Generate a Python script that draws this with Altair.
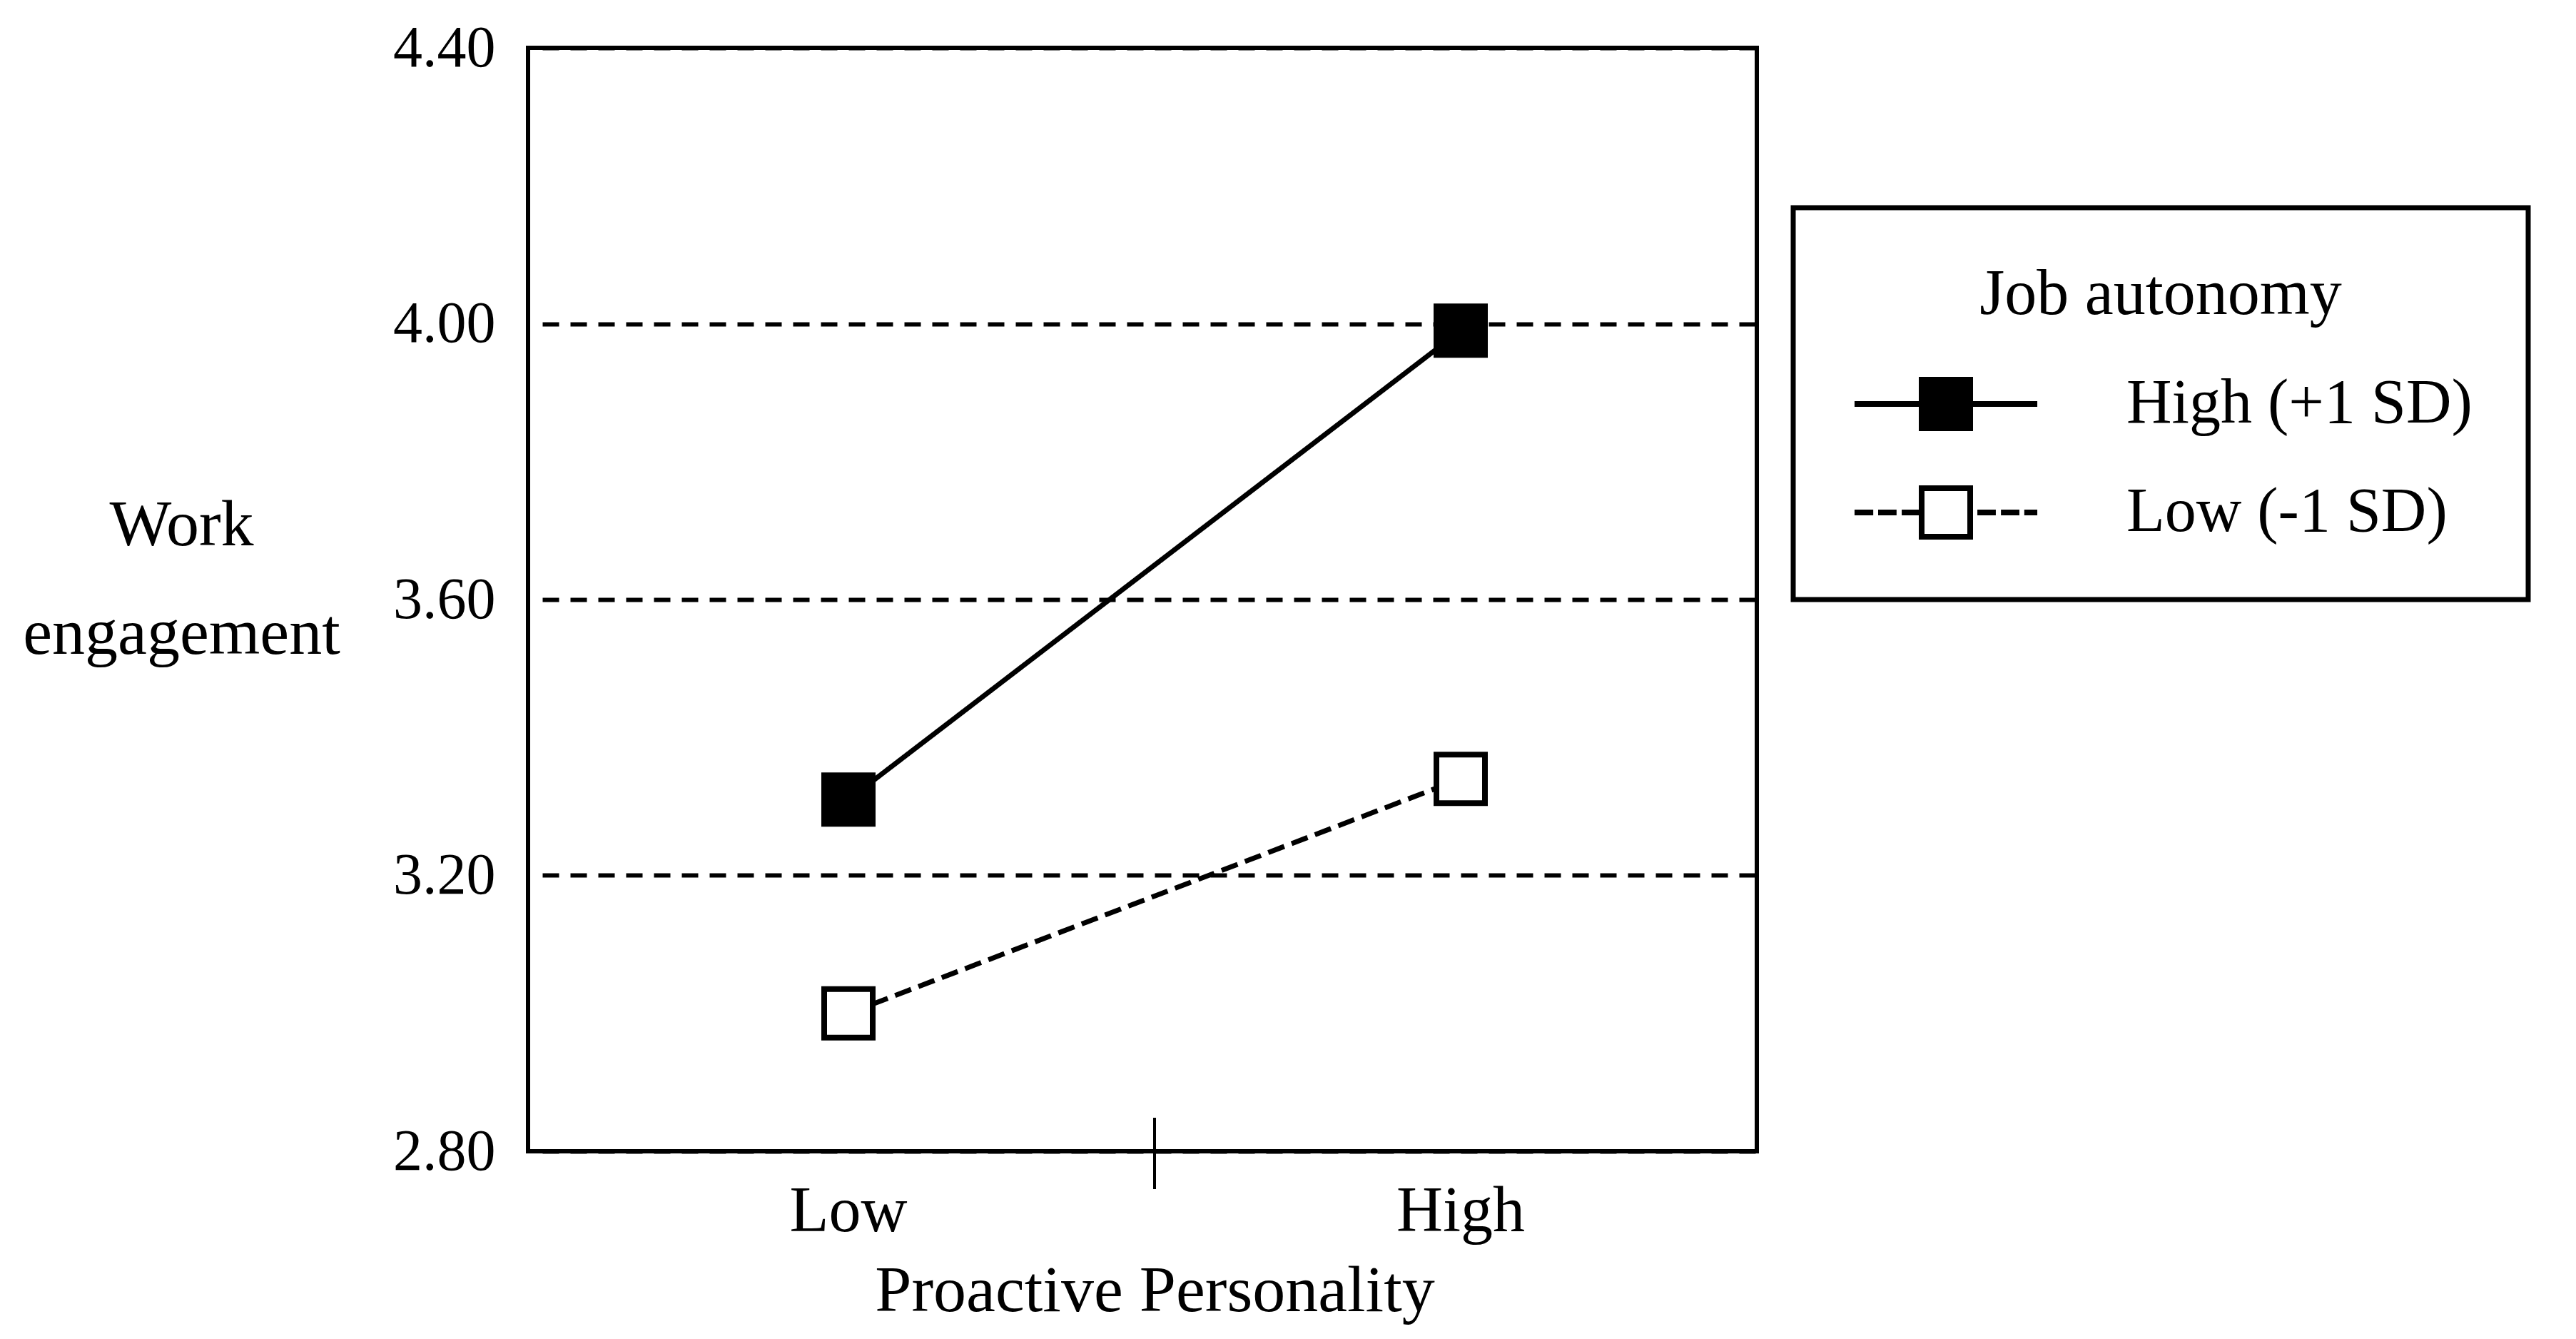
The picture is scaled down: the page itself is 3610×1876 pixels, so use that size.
import altair as alt
import pandas as pd

# ---- data ----
pp_levels = ["Low", "High"]                    # Proactive Personality
ja_levels = ["High (+1 SD)", "Low (-1 SD)"]    # Job autonomy
high_ja = [3.31, 3.99]
low_ja = [3.00, 3.34]
y_ticks = [2.80, 3.20, 3.60, 4.00, 4.40]

rows = []
for ja, vals in zip(ja_levels, [high_ja, low_ja]):
    for pp, v in zip(pp_levels, vals):
        rows.append({"pp": pp, "ja": ja, "we": v})
df = pd.DataFrame(rows)
divider = pd.DataFrame({"pp": [pp_levels[1]]})

FONT = "Liberation Serif"
W, H = 1722, 1546

# legend symbols: line + square (units of half the square side)
def rect(x1, x2, y1, y2):
    return f"M{x1},{y1}H{x2}V{y2}H{x1}Z"

T = 0.105   # half thickness of legend line
PATH_HIGH = rect(-3.37, 3.37, -T, T) + rect(-1, 1, -1, 1)
PATH_LOW = (rect(-1, 1, -1, -0.79) + rect(-1, 1, 0.79, 1)
            + rect(-1, -0.79, -1, 1) + rect(0.79, 1, -1, 1)
            + "".join(rect(a, b, -T, T) for a, b in [(-3.37, -2.68), (-2.50, -1.82), (-1.63, -1.0),
                                                      (1.16, 1.84), (2.03, 2.71), (2.89, 3.37)]))

xscale = alt.Scale(domain=pp_levels, type="band", paddingInner=0, paddingOuter=0, range=[20, 1736])
xaxis = alt.Axis(title="Proactive Personality", labelAngle=0, domain=False, ticks=False,
                 labelPadding=40, labelFontSize=90, titleFontSize=92, titleY=223,
                 titleBaseline="alphabetic", grid=False, labelLimit=1000)
yscale = alt.Scale(domain=[2.8, 4.4], nice=False, zero=False)
yaxis = alt.Axis(title=["Work", "engagement"], values=y_ticks, format=".2f", domain=False,
                 ticks=False, labelPadding=46, labelFontSize=82, grid=True, gridDash=[23, 16],
                 gridWidth=6, gridColor="black", titleAngle=0, titleAlign="center",
                 titleBaseline="alphabetic", titleX=-486, titleY=696, titleLineHeight=152,
                 titleFontSize=92)

X = alt.X("pp:N", scale=xscale, axis=xaxis, sort=pp_levels)
Y = alt.Y("we:Q", scale=yscale, axis=yaxis)

base = alt.Chart(df)

legend = alt.Legend(title="Job autonomy", orient="none", legendX=1773, legendY=224,
                    padding=78, strokeColor="black", titleFontSize=90, titleAnchor="middle",
                    titleAlign="center", titlePadding=63, titleLimit=2000, labelFontSize=88,
                    symbolSize=5776, symbolOffset=92, labelOffset=209, rowPadding=64,
                    symbolStrokeWidth=0, symbolOpacity=1, symbolFillColor="black",
                    labelLimit=1000)

# invisible layer that only feeds the legend
legend_layer = base.mark_point(filled=True, color="black", size=5776, opacity=0).encode(
    x=X, y=Y,
    shape=alt.Shape("ja:N", scale=alt.Scale(domain=ja_levels, range=[PATH_HIGH, PATH_LOW]),
                    legend=legend),
)

lines = base.mark_line(color="black", strokeWidth=7, strokeCap="butt").encode(
    x=X, y=Y,
    strokeDash=alt.StrokeDash("ja:N", scale=alt.Scale(domain=ja_levels, range=[[1, 0], [24, 11]]),
                              legend=None),
)

points_high = base.transform_filter(alt.datum.ja == ja_levels[0]).mark_point(
    shape="square", filled=True, fill="black", size=4624, stroke="black", strokeWidth=8, opacity=1
).encode(x=X, y=Y)

points_low = base.transform_filter(alt.datum.ja == ja_levels[1]).mark_point(
    shape="square", filled=True, fill="white", size=4624, stroke="black", strokeWidth=8, opacity=1
).encode(x=X, y=Y)

tick = alt.Chart(divider).mark_rule(color="black", strokeWidth=4).encode(
    x=alt.X("pp:N", bandPosition=0, scale=xscale, axis=xaxis, sort=pp_levels),
    y=alt.value(H - 47), y2=alt.value(H + 53),
)

chart = alt.layer(legend_layer, lines, points_high, points_low, tick).properties(
    width=W, height=H,
    autosize=alt.AutoSizeParams(type="none"),
    padding={"left": 732, "top": 59, "right": 1130, "bottom": 250},
).configure(font=FONT).configure_view(
    stroke="black", strokeWidth=6
).configure_axis(
    labelFont=FONT, titleFont=FONT, labelColor="black", titleColor="black",
    titleFontWeight="normal",
).configure_legend(
    labelFont=FONT, titleFont=FONT, labelColor="black", titleColor="black",
    titleFontWeight="normal", strokeWidth=7,
)

chart.save("out.html", embed_options={"renderer": "svg", "actions": False})
